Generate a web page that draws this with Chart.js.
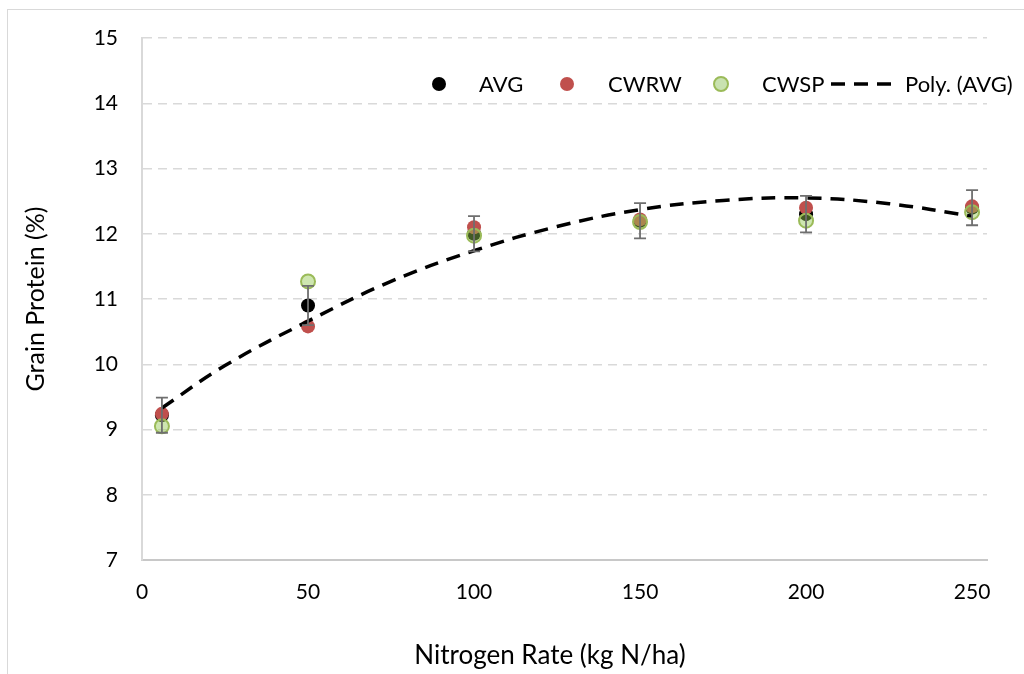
<!DOCTYPE html>
<html>
<head>
<meta charset="utf-8">
<script src="https://cdn.jsdelivr.net/npm/chart.js@4"></script>
<style>
  html, body { margin: 0; padding: 0; background: #fff; }
  #wrap { position: relative; width: 1024px; height: 674px; overflow: hidden; }
  #frame { position: absolute; left: 7px; top: 9px; width: 1100px; height: 700px; border: 1px solid #d9d9d9; pointer-events: none; }
  canvas { position: absolute; left: 0; top: 0; }
</style>
</head>
<body>
<div id="wrap">
  <div id="frame"></div>
  <canvas id="chart" width="1024" height="674"></canvas>
</div>
<script>
// Nitrogen rates (kg N/ha)
const nRates = [6, 50, 100, 150, 200, 250];

// Grain protein (%)
const avgValues = [9.22, 10.9, 12.0, 12.2, 12.3, 12.4];
const cwrwValues = [9.24, 10.58, 12.1, 12.22, 12.4, 12.42];
const cwspValues = [9.05, 11.27, 11.97, 12.18, 12.2, 12.33];
const avgErrors = [0.27, 0.3, 0.27, 0.27, 0.28, 0.27];

// Poly. (AVG) trendline
const trendRates = [6, 25, 50, 75, 100, 125, 150, 175, 200, 225, 250];
const trendValues = [9.33, 9.98, 10.66, 11.27, 11.74, 12.11, 12.37, 12.51, 12.55, 12.46, 12.27];

// Axis ranges
const xMin = 0, xMax = 254.5, xStep = 50;
const yMin = 7, yMax = 15, yStep = 1;

const seriesLabels = ["AVG", "CWRW", "CWSP", "Poly. (AVG)"];
const xTitle = "Nitrogen Rate (kg N/ha)";
const yTitle = "Grain Protein (%)";

const FONT = "Lato, 'Open Sans', sans-serif";

function toPoints(xs, ys) {
  return xs.map((x, i) => ({ x: x, y: ys[i] }));
}

// error bars for the AVG series
const errorBarPlugin = {
  id: "errorBars",
  afterDatasetsDraw(chart) {
    const ctx = chart.ctx;
    const xs = chart.scales.x;
    const ys = chart.scales.y;
    ctx.save();
    ctx.strokeStyle = "#6f6f6f";
    ctx.lineWidth = 1.8;
    nRates.forEach((n, i) => {
      const px = xs.getPixelForValue(n);
      const top = ys.getPixelForValue(avgValues[i] + avgErrors[i]);
      const bot = ys.getPixelForValue(avgValues[i] - avgErrors[i]);
      ctx.beginPath();
      ctx.moveTo(px, top); ctx.lineTo(px, bot);
      ctx.moveTo(px - 6, top); ctx.lineTo(px + 6, top);
      ctx.moveTo(px - 6, bot); ctx.lineTo(px + 6, bot);
      ctx.stroke();
    });
    ctx.restore();
  }
};

// legend sits inside the plot, top right
const legendPlugin = {
  id: "insideLegend",
  afterDraw(chart) {
    const ctx = chart.ctx;
    const y = 84;
    const byLabel = {};
    chart.data.datasets.forEach((d) => { byLabel[d.label] = d; });
    ctx.save();
    ctx.font = "22px " + FONT;
    ctx.textBaseline = "middle";
    ctx.fillStyle = "#000";

    const markerX = [439, 567, 721];
    const textX = [479, 608, 762, 905];
    for (let i = 0; i < 3; i++) {
      const d = byLabel[seriesLabels[i]];
      ctx.beginPath();
      ctx.arc(markerX[i], y, 7, 0, Math.PI * 2);
      ctx.fillStyle = d.legendFill || d.backgroundColor;
      ctx.fill();
      if (d.borderWidth) {
        ctx.lineWidth = d.borderWidth;
        ctx.strokeStyle = d.borderColor;
        ctx.stroke();
      }
      ctx.fillStyle = "#000";
      ctx.fillText(d.label, textX[i], y + 1);
    }
    // dashed sample for trendline
    ctx.beginPath();
    ctx.setLineDash([14, 9]);
    ctx.lineWidth = 3.5;
    ctx.strokeStyle = "#000";
    ctx.moveTo(831, y); ctx.lineTo(899, y);
    ctx.stroke();
    ctx.setLineDash([]);
    ctx.fillText(seriesLabels[3], textX[3], y + 1);

    // x axis title
    ctx.font = "26px " + FONT;
    ctx.textAlign = "center";
    ctx.fillText(xTitle, 550, 656);
    ctx.restore();
  }
};

const ctx = document.getElementById("chart");

new Chart(ctx, {
  type: "scatter",
  data: {
    datasets: [
      {
        label: seriesLabels[3],
        type: "line",
        data: toPoints(trendRates, trendValues),
        borderColor: "#000",
        borderWidth: 3.5,
        borderDash: [14, 9],
        pointRadius: 0,
        tension: 0.4,
        fill: false,
        order: 0
      },
      {
        label: seriesLabels[0],
        data: toPoints(nRates, avgValues),
        backgroundColor: "#000",
        borderWidth: 0,
        pointRadius: 7,
        order: 3
      },
      {
        label: seriesLabels[1],
        data: toPoints(nRates, cwrwValues),
        backgroundColor: "#c0504d",
        borderWidth: 0,
        pointRadius: 7,
        order: 2
      },
      {
        label: seriesLabels[2],
        data: toPoints(nRates, cwspValues),
        backgroundColor: "rgba(146, 200, 80, 0.45)",
        legendFill: "#c9e2b0",
        borderColor: "#9bbb59",
        borderWidth: 2,
        pointRadius: 7,
        order: 1
      }
    ]
  },
  options: {
    responsive: false,
    animation: false,
    layout: { padding: { left: 0, top: 38, right: 37, bottom: 0 } },
    plugins: {
      legend: { display: false },
      tooltip: { enabled: false }
    },
    scales: {
      x: {
        type: "linear",
        min: xMin,
        max: xMax,
        afterFit: (scale) => { scale.height = 114; },
        ticks: {
          stepSize: xStep,
          includeBounds: false,
          padding: 20,
          color: "#000",
          font: { family: FONT, size: 21 }
        },
        grid: { display: false, drawTicks: false },
        border: { display: true, color: "#c8c8c8", width: 2 }
      },
      y: {
        min: yMin,
        max: yMax,
        afterFit: (scale) => { scale.width = 142; },
        ticks: {
          stepSize: yStep,
          padding: 24,
          color: "#000",
          font: { family: FONT, size: 21 }
        },
        grid: { color: "#d9d9d9", lineWidth: 1.5, drawTicks: false },
        border: { display: true, color: "#d9d9d9", width: 2, dash: [9, 6] },
        title: {
          display: true,
          text: yTitle,
          color: "#000",
          font: { family: FONT, size: 25 },
          padding: { top: 21, bottom: 0 }
        }
      }
    }
  },
  plugins: [errorBarPlugin, legendPlugin]
});
</script>
</body>
</html>
